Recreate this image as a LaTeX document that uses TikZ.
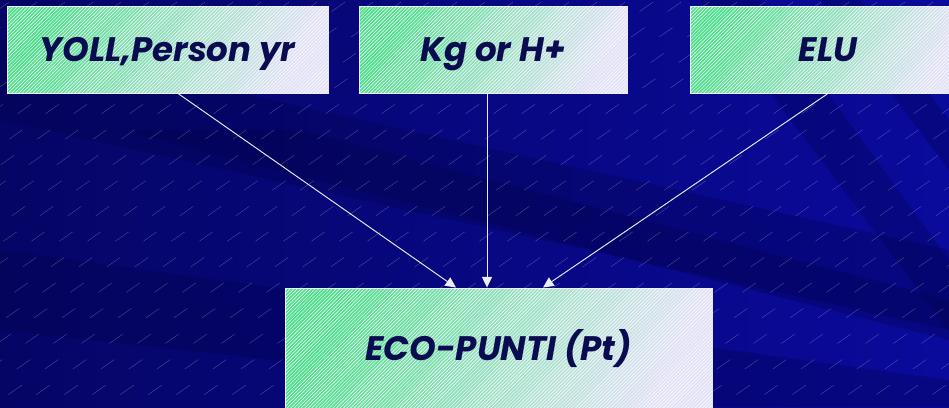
\documentclass[tikz,border=0pt]{standalone}
\usepackage{fontspec}
\usetikzlibrary{arrows.meta,positioning,calc,patterns}
\newfontfamily\comicfont{Poppins}
\definecolor{bgdark}{HTML}{050566}
\definecolor{bglight}{HTML}{0A0A9C}
\definecolor{band}{HTML}{02024A}
\definecolor{boxgreen}{HTML}{4FDF8C}
\definecolor{boxmid}{HTML}{A8E2C8}
\definecolor{boxlav}{HTML}{E2E0F6}
\definecolor{ink}{HTML}{0B0B52}
\definecolor{edge}{HTML}{E8E8F4}
\definecolor{wire}{HTML}{ECECF6}

\begin{document}
\begin{tikzpicture}[
  x=0.03cm, y=-0.03cm,
  >={Triangle[width=8.5pt,length=9pt]},
  every node/.append style={text=ink},
  unitbox/.style={draw=edge, line width=0.8pt, inner sep=0pt,
    left color=boxgreen, middle color=boxmid, right color=boxlav, shading angle=65,
    postaction={pattern=north east lines, pattern color=white, fill opacity=0.25},
    text height=20pt, text depth=0pt,
    font=\comicfont\bfseries\itshape\fontsize{29}{33}\selectfont},
  link/.style={->, draw=wire, line width=0.8pt},
  bgdash/.style={draw=white, line width=0.3pt, opacity=0.3, dash pattern=on 14pt off 24pt},
  bandfill/.style={fill=band, opacity=0.3},
]
\useasboundingbox (0,0) rectangle (949,407);
\clip (0,0) rectangle (949,407);
% --- background ---
\shade[left color=bgdark, right color=bglight] (0,0) rectangle (949,407);
\fill[bandfill] (0,40) -- (0,120) -- (949,330) -- (949,250) -- cycle;
\fill[bandfill] (0,250) -- (0,330) -- (700,407) -- (949,407) -- (949,380) -- cycle;
\fill[bandfill] (120,130) -- (300,130) -- (949,300) -- (949,340) -- cycle;
\fill[bandfill] (700,0) -- (760,0) -- (949,260) -- (949,330) -- cycle;
\fill[bandfill] (820,0) -- (860,0) -- (949,120) -- (949,170) -- cycle;
\foreach \k in {-30,...,40} {
  \draw[bgdash] (\k*28,420) -- (\k*28+600,0);
}
% --- source units ---
\node[unitbox, minimum width=321*0.03cm, minimum height=87*0.03cm] (yoll) at (167.5,49.5) {YOLL,Person yr};
\node[unitbox, minimum width=268*0.03cm, minimum height=87*0.03cm] (kg) at (493,49.5) {Kg or H+};
\node[unitbox, minimum width=276*0.03cm, minimum height=87*0.03cm] (elu) at (828,49.5) {ELU};
% --- target ---
\node[unitbox, minimum width=427*0.03cm, minimum height=122*0.03cm] (eco) at (498.5,349) {ECO-PUNTI (Pt)};
% --- connectors ---
\draw[link] ($(yoll.south)+(10.5,0)$) -- ($(eco.north)+(-42.5,0)$);
\draw[link] ($(kg.south)+(-6,0)$) -- ($(kg.south |- eco.north)+(-6,0)$);
\draw[link] (elu.south) -- ($(eco.north)+(44.5,0)$);
\end{tikzpicture}
\end{document}
